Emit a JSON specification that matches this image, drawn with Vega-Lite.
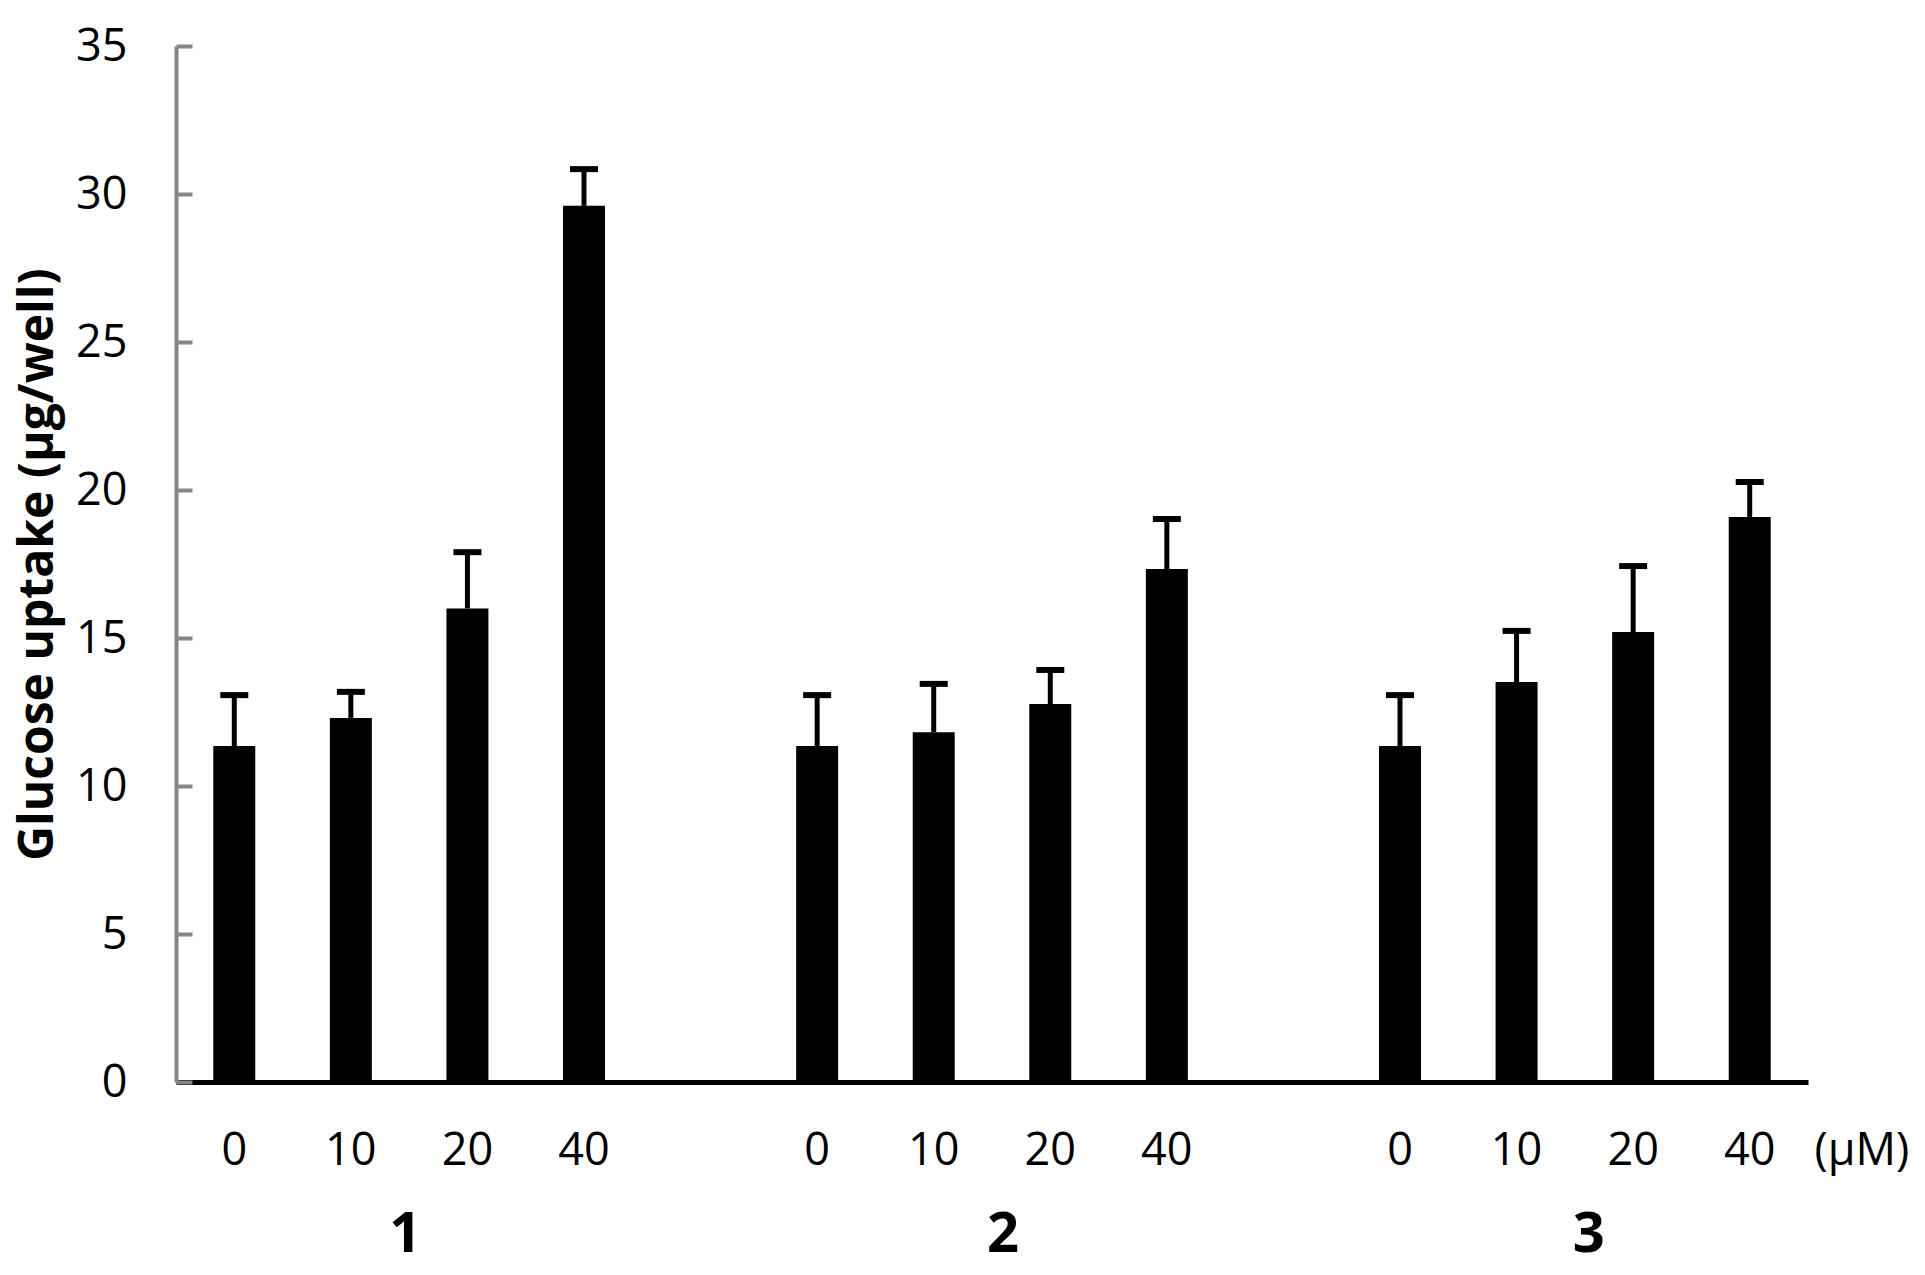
{
  "$schema": "https://vega.github.io/schema/vega-lite/v6.json",
  "width": 1632,
  "height": 1036,
  "autosize": "none",
  "padding": {"left": 176, "top": 46, "right": 117, "bottom": 193},
  "background": "white",
  "config": {
    "view": {"stroke": null},
    "font": "Open Sans"
  },
  "data": {
    "values": [
      {"group": "1", "dose": "0", "cat": "1-0", "mean": 11.35, "upper": 13.07},
      {"group": "1", "dose": "10", "cat": "1-10", "mean": 12.3, "upper": 13.18},
      {"group": "1", "dose": "20", "cat": "1-20", "mean": 16.0, "upper": 17.9},
      {"group": "1", "dose": "40", "cat": "1-40", "mean": 29.6, "upper": 30.84},
      {"group": "2", "dose": "0", "cat": "2-0", "mean": 11.35, "upper": 13.07},
      {"group": "2", "dose": "10", "cat": "2-10", "mean": 11.82, "upper": 13.45},
      {"group": "2", "dose": "20", "cat": "2-20", "mean": 12.77, "upper": 13.92},
      {"group": "2", "dose": "40", "cat": "2-40", "mean": 17.33, "upper": 19.02},
      {"group": "3", "dose": "0", "cat": "3-0", "mean": 11.35, "upper": 13.07},
      {"group": "3", "dose": "10", "cat": "3-10", "mean": 13.51, "upper": 15.24},
      {"group": "3", "dose": "20", "cat": "3-20", "mean": 15.2, "upper": 17.43},
      {"group": "3", "dose": "40", "cat": "3-40", "mean": 19.09, "upper": 20.27}
    ]
  },
  "resolve": {"axis": {"x": "independent"}},
  "layer": [
    {
      "mark": {"type": "bar", "color": "black"},
      "encoding": {
        "x": {
          "field": "cat",
          "type": "nominal",
          "sort": null,
          "scale": {
            "domain": ["1-0", "1-10", "1-20", "1-40", "g1", "2-0", "2-10", "2-20", "2-40", "g2", "3-0", "3-10", "3-20", "3-40"],
            "paddingInner": 0.64,
            "paddingOuter": 0.32
          },
          "axis": {
            "orient": "bottom",
            "domainColor": "black",
            "domainWidth": 5,
            "ticks": false,
            "labelAngle": 0,
            "labelExpr": "indexof(datum.value, '-') > 0 ? split(datum.value, '-')[1] : ''",
            "labelFont": "Open Sans",
            "labelFontSize": 45,
            "labelColor": "black",
            "labelBaseline": "middle",
            "labelPadding": 68,
            "title": "(µM)",
            "titleFont": "Open Sans",
            "titleFontSize": 45,
            "titleFontWeight": "normal",
            "titleColor": "black",
            "titleAngle": 0,
            "titleAlign": "left",
            "titleBaseline": "middle",
            "titleX": 1638,
            "titleY": 68
          }
        },
        "y": {
          "field": "mean",
          "type": "quantitative",
          "scale": {"domain": [0, 35], "nice": false},
          "axis": {
            "values": [0, 5, 10, 15, 20, 25, 30, 35],
            "grid": false,
            "domainColor": "#868686",
            "domainWidth": 4,
            "tickColor": "#868686",
            "tickWidth": 4,
            "tickSize": -16,
            "labelFont": "Open Sans",
            "labelFontSize": 45,
            "labelColor": "black",
            "labelPadding": 65,
            "title": "Glucose uptake (µg/well)",
            "titleFont": "Open Sans",
            "titleFontSize": 48,
            "titleFontWeight": "bold",
            "titleColor": "black",
            "titlePadding": 13
          }
        }
      }
    },
    {
      "mark": {"type": "rule", "color": "black", "strokeWidth": 5},
      "encoding": {
        "x": {
          "field": "cat",
          "type": "nominal",
          "sort": null,
          "axis": {
            "orient": "bottom",
            "values": ["1-10", "2-10", "3-10"],
            "domain": false,
            "ticks": false,
            "labelAngle": 0,
            "labelOffset": {
              "condition": [
                {"test": "datum.value == '1-10'", "value": 54.3},
                {"test": "datum.value == '2-10'", "value": 69.3}
              ],
              "value": 72.3
            },
            "labelExpr": "split(datum.value, '-')[0]",
            "labelFont": "Open Sans",
            "labelFontSize": 56,
            "labelFontWeight": "bold",
            "labelColor": "black",
            "labelBaseline": "middle",
            "labelPadding": 152,
            "title": null
          }
        },
        "y": {"field": "mean", "type": "quantitative", "title": "Glucose uptake (µg/well)"},
        "y2": {"field": "upper"}
      }
    },
    {
      "mark": {"type": "tick", "color": "black", "opacity": 1, "size": 28, "thickness": 6},
      "encoding": {
        "x": {"field": "cat", "type": "nominal", "sort": null, "axis": null},
        "y": {"field": "upper", "type": "quantitative", "title": "Glucose uptake (µg/well)"}
      }
    }
  ]
}
